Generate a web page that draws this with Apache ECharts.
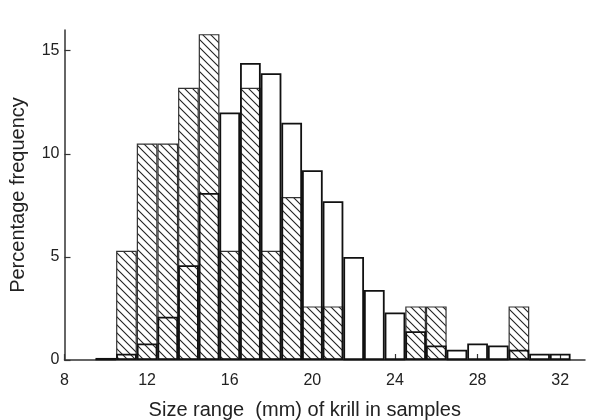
<!DOCTYPE html>
<html lang="en">
<head>
    <meta charset="UTF-8">
    <title>krill size</title>
    <style>
        body { margin: 0; background: #fff; }
    </style>
</head>
<body>
    <div id="main" style="width:595px;height:420px;"></div>
</body>
<script src="https://cdn.jsdelivr.net/npm/echarts@6/dist/echarts.min.js"></script>
<script>
    // bin centres (mm), one bar per 1 mm bin
    var sizes = [10, 11, 12, 13, 14, 15, 16, 17, 18, 19, 20, 21, 22, 23, 24, 25, 26, 27, 28, 29, 30, 31, 32]
    // hatched bars
    var hatched = [0, 5.3, 10.5, 10.5, 13.2, 15.8, 5.3, 13.2, 5.3, 7.9, 2.6, 2.6, 0, 0, 0, 2.6, 2.6, 0, 0, 0, 2.6, 0, 0]
    // open bars
    var open = [0.1, 0.3, 0.8, 2.1, 4.6, 8.1, 12.0, 14.4, 13.9, 11.5, 9.2, 7.7, 5.0, 3.4, 2.3, 1.4, 0.7, 0.5, 0.8, 0.7, 0.5, 0.3, 0.3]
    var xTicks = [8, 12, 16, 20, 24, 28, 32]
    var yTicks = [0, 5, 10, 15]

    // diagonal hatch tile
    var tile = document.createElement('canvas')
    var s = 8
    tile.width = s
    tile.height = s
    var ctx = tile.getContext('2d')
    ctx.fillStyle = '#fff'
    ctx.fillRect(0, 0, s, s)
    ctx.strokeStyle = '#222'
    ctx.lineWidth = 1.1
    ctx.beginPath()
    ctx.moveTo(-1, -1)
    ctx.lineTo(s + 1, s + 1)
    ctx.moveTo(-1, s - 1)
    ctx.lineTo(1, s + 1)
    ctx.moveTo(s - 1, -1)
    ctx.lineTo(s + 1, 1)
    ctx.stroke()

    function pairs(vals) {
        var out = []
        for (var i = 0; i < sizes.length; i++) {
            out.push([sizes[i], vals[i]])
        }
        return out
    }

    var font = 'Liberation Sans'
    var main = document.getElementById('main')
    var myChart = echarts.init(main)
    var option = {
        animation: false,
        backgroundColor: '#fff',
        grid: { left: 64.5, right: 10, top: 30, bottom: 60, outerBoundsMode: 'none', containLabel: false },
        xAxis: {
            type: 'value',
            min: 8,
            max: 33.2,
            interval: 4,
            name: 'Size range  (mm) of krill in samples',
            nameLocation: 'middle',
            nameGap: 40,
            nameTextStyle: { fontFamily: font, fontSize: 20, color: '#222', padding: [0, 40, 0, 0] },
            axisLine: { lineStyle: { color: '#333', width: 1.5 } },
            axisTick: { inside: true, length: 6, customValues: xTicks, lineStyle: { color: '#333', width: 1.2 } },
            axisLabel: { customValues: xTicks, fontFamily: font, fontSize: 16, color: '#222', margin: 13 },
            splitLine: { show: false }
        },
        yAxis: {
            type: 'value',
            min: 0,
            max: 16,
            interval: 5,
            name: 'Percentage frequency',
            nameLocation: 'middle',
            nameGap: 36,
            nameTextStyle: { fontFamily: font, fontSize: 20, color: '#222' },
            axisLine: { show: true, lineStyle: { color: '#333', width: 1.5 } },
            axisTick: { show: true, inside: true, length: 6, customValues: yTicks, lineStyle: { color: '#333', width: 1.2 } },
            axisLabel: { customValues: yTicks, fontFamily: font, fontSize: 16, color: '#222', margin: 5 },
            splitLine: { show: false }
        },
        series: [{
            name: 'hatched',
            type: 'bar',
            data: pairs(hatched),
            barWidth: 20.7,
            barGap: '-100%',
            itemStyle: {
                color: { image: tile, repeat: 'repeat' },
                borderColor: '#333',
                borderWidth: 1.2
            }
        }, {
            name: 'open',
            type: 'bar',
            data: pairs(open),
            barWidth: 20.7,
            barGap: '-100%',
            itemStyle: {
                color: 'rgba(0,0,0,0)',
                borderColor: '#111',
                borderWidth: 1.8
            }
        }]
    }
    myChart.setOption(option)
</script>
</html>
